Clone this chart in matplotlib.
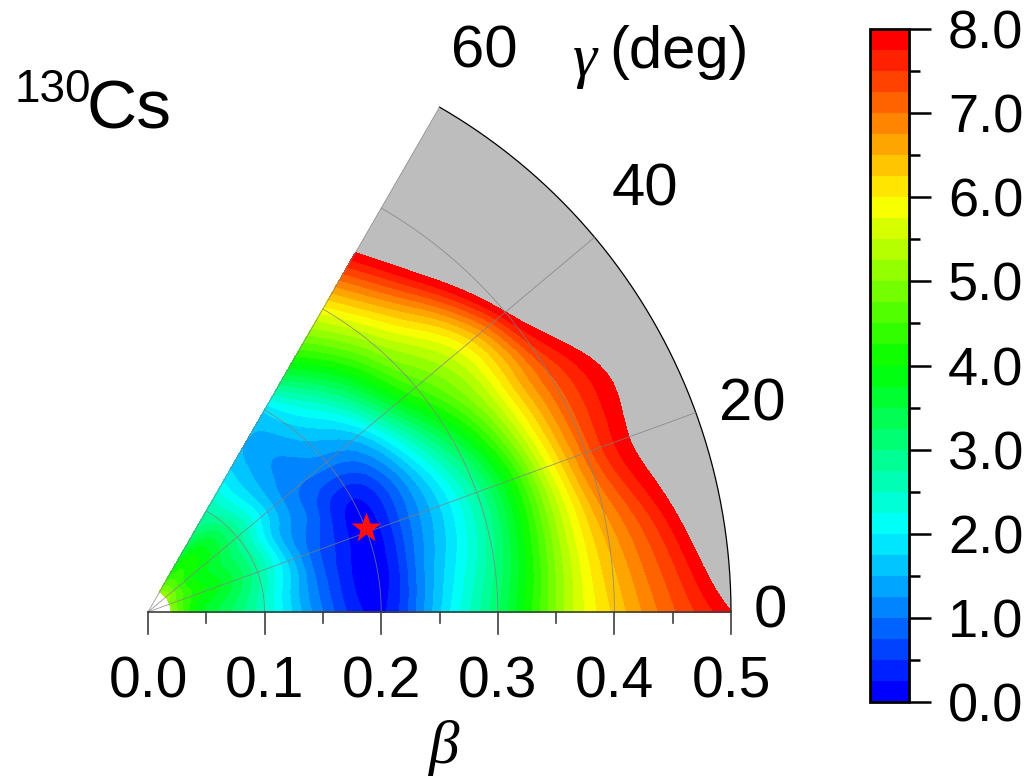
import numpy as np
import matplotlib
matplotlib.use('Agg')
import matplotlib.pyplot as plt
import matplotlib.tri as mtri
from matplotlib.colors import LinearSegmentedColormap
from matplotlib.patches import Wedge

# energy surface (MeV), rows are gamma, columns are beta
betas = [0.02, 0.05, 0.10, 0.125, 0.15, 0.175, 0.20, 0.225, 0.25, 0.30, 0.35, 0.40, 0.45, 0.50]
gammas = [0, 10, 20, 30, 40, 50, 60]
e_g0 = [5.0, 3.7, 2.5, 1.7, 1.0, 0.4, 0.2, 0.8, 1.7, 3.2, 5.0, 6.3, 7.2, 8.0]
e_g10 = [5.0, 3.8, 2.6, 1.7, 0.9, 0.3, 0.1, 0.7, 1.5, 2.9, 4.9, 6.6, 7.7, 9.2]
e_g20 = [5.0, 4.0, 2.8, 1.8, 0.9, 0.4, 0.1, 0.6, 1.3, 2.8, 5.0, 7.1, 8.2, 9.5]
e_g30 = [5.0, 4.0, 2.8, 1.7, 1.1, 0.6, 0.3, 0.7, 1.5, 3.5, 5.5, 7.2, 8.25, 9.5]
e_g40 = [5.2, 4.0, 2.9, 2.0, 1.25, 1.0, 1.1, 1.4, 2.3, 4.5, 5.8, 8.0, 10.0, 11.0]
e_g50 = [5.1, 4.2, 2.9, 2.0, 1.4, 1.25, 1.6, 2.2, 3.2, 5.2, 7.0, 9.0, 10.5, 11.5]
e_g60 = [5.0, 3.7, 2.7, 2.1, 1.6, 1.5, 1.8, 3.0, 4.1, 5.9, 7.8, 9.5, 11.0, 12.0]

star_beta = 0.20
star_gamma = 21
beta_ticks = [0.0, 0.1, 0.2, 0.3, 0.4, 0.5]
beta_minor = [0.05, 0.15, 0.25, 0.35, 0.45]
gamma_labels = [0, 20, 40, 60]
bar_ticks = [0, 1, 2, 3, 4, 5, 6, 7, 8]

W, H = 1028, 784
PX = 1166.0  # pixels per unit of beta
X0, Y0 = 148, 612

plt.rcParams['font.family'] = ['Liberation Sans', 'DejaVu Sans']
plt.rcParams['mathtext.fontset'] = 'custom'
plt.rcParams['mathtext.it'] = 'Liberation Serif:italic'

fig = plt.figure(figsize=(W / 100, H / 100), dpi=100)
ax = fig.add_axes([0, 0, 1, 1])
ax.set_xlim(-X0 / PX, (W - X0) / PX)
ax.set_ylim(-(H - Y0) / PX, Y0 / PX)
ax.axis('off')

b, g = np.meshgrid(betas, np.radians(gammas))
x = (b * np.cos(g)).ravel()
y = (b * np.sin(g)).ravel()
z = np.array([e_g0, e_g10, e_g20, e_g30, e_g40, e_g50, e_g60]).ravel()

# triangles follow the beta/gamma grid, refined so the contours come out smooth
nb, ng = len(betas), len(gammas)
tris = []
for j in range(ng - 1):
    for i in range(nb - 1):
        p = j * nb + i
        tris.append([p, p + 1, p + nb])
        tris.append([p + 1, p + nb + 1, p + nb])
tri = mtri.Triangulation(x, y, tris)
refiner = mtri.UniformTriRefiner(tri)
tri2, z2 = refiner.refine_field(z, subdiv=3)
z2 = np.clip(z2, 0.02, None)

# grey part of the sector, only shows where the energy is above 8
ax.add_patch(Wedge((0, 0), 0.5, 0, 60, width=0.2, facecolor='#bdbdbd', edgecolor='none', zorder=1))

cmap = LinearSegmentedColormap.from_list('rb', ['#0000ff', '#00ffff', '#00ff00', '#ffff00', '#ff0000'], N=32)
levels = np.arange(0, 8.25, 0.25)
cs = ax.tricontourf(tri2, z2, levels=levels, cmap=cmap, zorder=2)
cs.set_edgecolor('face')
cs.set_linewidth(0.3)

# polar grid
t = np.radians(np.linspace(0, 60, 200))
for r in beta_ticks[1:-1]:
    ax.plot(r * np.cos(t), r * np.sin(t), color='#808080', lw=0.6, alpha=0.8, zorder=3)
ax.plot(0.5 * np.cos(t), 0.5 * np.sin(t), color='black', lw=0.9, zorder=3)
for a in [20, 40, 60]:
    ar = np.radians(a)
    ax.plot([0, 0.5 * np.cos(ar)], [0, 0.5 * np.sin(ar)], color='#808080', lw=0.6, alpha=0.8, zorder=3)

# beta axis
ax.plot([0, 0.5], [0, 0], color='#404040', lw=1.2, zorder=4)
for v in beta_ticks:
    ax.plot([v, v], [0, -22 / PX], color='#404040', lw=1.2, zorder=4)
    ax.text(v, -71 / PX, '%.1f' % v, ha='center', va='center', fontsize=41)
for v in beta_minor:
    ax.plot([v, v], [0, -11 / PX], color='#404040', lw=1.2, zorder=4)

ax.plot(star_beta * np.cos(np.radians(star_gamma)), star_beta * np.sin(np.radians(star_gamma)),
        marker='*', ms=23, color='#ff1010', mec='none', zorder=5)

# gamma labels
label_pos = {0: (770, 612), 20: (752, 405), 40: (645, 190), 60: (484, 52)}
for v in gamma_labels:
    px, py = label_pos[v]
    ax.text((px - X0) / PX, (Y0 - py) / PX, str(v), ha='center', va='center', fontsize=43)

ax.text((572 - X0) / PX, (Y0 - 62) / PX, r'$\gamma$', ha='left', va='center', fontsize=44)
ax.text((609 - X0) / PX, (Y0 - 52) / PX, '(deg)', ha='left', va='center', fontsize=43)
ax.text((445 - X0) / PX, (Y0 - 748) / PX, r'$\beta$', ha='center', va='center', fontsize=44)
ax.text((14 - X0) / PX, (Y0 - 90) / PX, '130', ha='left', va='center', fontsize=33)
ax.text((87 - X0) / PX, (Y0 - 110) / PX, 'Cs', ha='left', va='center', fontsize=50)

# colour bar
cax = fig.add_axes([870 / W, 1 - 702 / H, 39 / W, 673 / H])
cb = fig.colorbar(cs, cax=cax, spacing='proportional')
cb.set_ticks(bar_ticks)
cb.set_ticklabels(['%.1f' % v for v in bar_ticks])
cb.ax.set_yticks(np.arange(0.5, 8, 1), minor=True)
cb.ax.tick_params(which='major', length=16, width=1.8, labelsize=39, pad=12)
cb.ax.tick_params(which='minor', length=8, width=1.8)
cb.outline.set_linewidth(2)

fig.savefig('out.png', dpi=100)
